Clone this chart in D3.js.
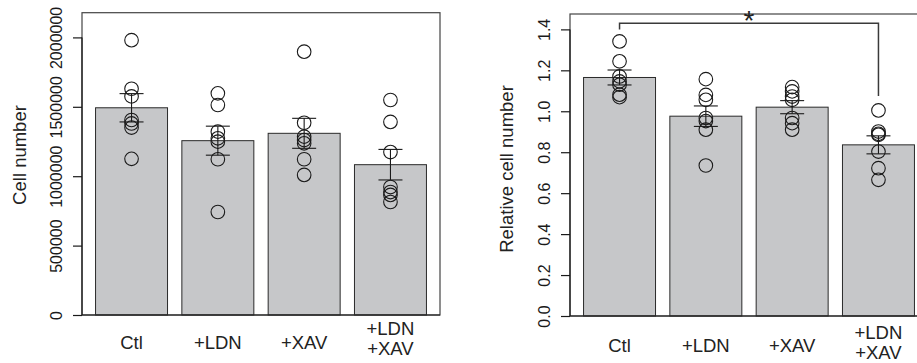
<!DOCTYPE html>
<html>
<head>
<meta charset="utf-8">
<script src="https://cdn.jsdelivr.net/npm/d3@7/dist/d3.min.js"></script>
<style>
  html, body { margin: 0; padding: 0; background: #fff; }
  svg { display: block; font-family: "Liberation Sans", Arial, Helvetica, sans-serif; }
</style>
</head>
<body>
<svg id="chart" width="917" height="363"></svg>
<script>
// ---- data ----
const categories = ["Ctl", "+LDN", "+XAV", "+LDN\n+XAV"];

const countMean = [1493000, 1256000, 1309000, 1083000];
const countSem  = [102000, 104500, 108000, 110000];
const countPoints = [
  [1980000, 1630000, 1575000, 1405000, 1380000, 1350000, 1125000],
  [1597000, 1513000, 1321000, 1273000, 1249000, 1122000, 742000],
  [1897000, 1385000, 1285000, 1261000, 1237000, 1122000, 1009000],
  [1549000, 1391000, 1174000, 922000, 886000, 865000, 814000]
];
const countTicks = [0, 500000, 1000000, 1500000, 2000000];

const relMean = [1.165, 0.976, 1.020, 0.836];
const relSem  = [0.0365, 0.050, 0.032, 0.044];
const relPoints = [
  [1.341, 1.244, 1.170, 1.146, 1.130, 1.081, 1.069],
  [1.157, 1.080, 1.056, 0.967, 0.952, 0.910, 0.735],
  [1.118, 1.097, 1.072, 1.056, 0.967, 0.942, 0.910],
  [1.004, 0.901, 0.890, 0.885, 0.803, 0.722, 0.665]
];
const relTicks = [0, 0.2, 0.4, 0.6, 0.8, 1.0, 1.2, 1.4];
const relTickLabels = ["0.0", "0.2", "0.4", "0.6", "0.8", "1.0", "1.2", "1.4"];

const sigLabel = "*";

// ---- drawing ----
const svg = d3.select("#chart");
const FONT_TICK = 16;
const FONT_LAB = 18.5;

function panel(opts) {
  const { left, right, top, bottom, mean, sem, points, ticks, tickFmt, ylab, ylabY, xlabSingle, xlabDouble } = opts;
  const g = svg.append("g");
  const ymax = d3.max(points.flat()) * 1.1;
  const y = d3.scaleLinear().domain([0, ymax]).range([bottom, top]);
  const x = d3.scaleBand().domain(categories).range([left, right])
    .paddingInner(0.166).paddingOuter(0.157);

  // bars
  g.selectAll("rect.bar").data(categories).enter().append("rect")
    .attr("class", "bar")
    .attr("x", d => x(d))
    .attr("y", (d, i) => y(mean[i]))
    .attr("width", x.bandwidth())
    .attr("height", (d, i) => y(0) - y(mean[i]))
    .attr("fill", "#c6c7c9")
    .attr("stroke", "#2a2a2a")
    .attr("stroke-width", 1);

  // box
  g.append("rect")
    .attr("x", left).attr("y", top)
    .attr("width", right - left).attr("height", bottom - top)
    .attr("fill", "none").attr("stroke", "#444").attr("stroke-width", 1.2);

  // points
  categories.forEach((c, i) => {
    const cx = x(c) + x.bandwidth() / 2;
    g.selectAll(null).data(points[i]).enter().append("circle")
      .attr("cx", cx).attr("cy", d => y(d)).attr("r", 6.8)
      .attr("fill", "none").attr("stroke", "#1a1a1a").attr("stroke-width", 1.1);
  });

  // error bars
  categories.forEach((c, i) => {
    const cx = x(c) + x.bandwidth() / 2;
    const hi = y(mean[i] + sem[i]), lo = y(mean[i] - sem[i]);
    const eg = g.append("g").attr("stroke", "#1a1a1a").attr("stroke-width", 1.1);
    eg.append("line").attr("x1", cx).attr("x2", cx).attr("y1", hi).attr("y2", lo);
    eg.append("line").attr("x1", cx - 12).attr("x2", cx + 12).attr("y1", hi).attr("y2", hi);
    eg.append("line").attr("x1", cx - 12).attr("x2", cx + 12).attr("y1", lo).attr("y2", lo);
  });

  // y axis
  const ax = g.append("g").attr("transform", `translate(${left},0)`)
    .call(d3.axisLeft(y).tickValues(ticks).tickFormat(tickFmt).tickSize(9).tickSizeOuter(0));
  ax.select(".domain").attr("stroke", "#1a1a1a").attr("stroke-width", 1.2)
    .attr("d", `M0,${y(ticks[0])}V${y(ticks[ticks.length - 1])}`);
  ax.selectAll(".tick line").attr("stroke", "#1a1a1a").attr("stroke-width", 1.2);
  ax.selectAll(".tick text")
    .attr("x", null).attr("dy", null)
    .attr("transform", "translate(-20,0) rotate(-90)")
    .attr("text-anchor", "middle")
    .attr("fill", "#1a1a1a")
    .style("font-size", FONT_TICK + "px")
    .style("font-family", "'Liberation Sans', Arial, Helvetica, sans-serif");
  // x axis baseline (bottom of box)
  g.append("line").attr("x1", left).attr("x2", right).attr("y1", bottom).attr("y2", bottom)
    .attr("stroke", "#1a1a1a").attr("stroke-width", 1.2);

  // y label
  g.append("text")
    .attr("transform", `translate(${ylab.x},${ylabY}) rotate(-90)`)
    .attr("text-anchor", "middle").attr("fill", "#222")
    .style("font-size", FONT_LAB + "px")
    .text(ylab.text);

  // x labels
  categories.forEach((c, i) => {
    const cx = x(c) + x.bandwidth() / 2;
    const lines = c.split("\n");
    const t = g.append("text").attr("text-anchor", "middle").attr("fill", "#222")
      .style("font-size", FONT_LAB + "px");
    if (lines.length === 1) {
      t.append("tspan").attr("x", cx).attr("y", xlabSingle).text(lines[0]);
    } else {
      lines.forEach((l, k) => t.append("tspan").attr("x", cx).attr("y", xlabDouble[k]).text(l));
    }
  });

  return { x, y, g };
}

const fmtCount = d => d3.format("d")(d);
panel({
  left: 82, right: 440, top: 12.7, bottom: 315,
  mean: countMean, sem: countSem, points: countPoints,
  ticks: countTicks, tickFmt: fmtCount,
  ylab: { x: 26, text: "Cell number" }, ylabY: 155,
  xlabSingle: 349, xlabDouble: [335, 355]
});

const R = panel({
  left: 570, right: 928, top: 14, bottom: 316,
  mean: relMean, sem: relSem, points: relPoints,
  ticks: relTicks, tickFmt: (d, i) => relTickLabels[i],
  ylab: { x: 513, text: "Relative cell number" }, ylabY: 169,
  xlabSingle: 352, xlabDouble: [339, 358.5]
});

// significance bracket Ctl vs +LDN+XAV
{
  const x = R.x, y = R.y;
  const a = x(categories[0]) + x.bandwidth() / 2;
  const b = x(categories[3]) + x.bandwidth() / 2;
  const yTop = y(1.43);
  R.g.append("path")
    .attr("d", `M${a},${y(1.40)}V${yTop}H${b}V${y(1.075)}`)
    .attr("fill", "none").attr("stroke", "#3a3a3a").attr("stroke-width", 1.5);
  R.g.append("text")
    .attr("x", (a + b) / 2).attr("y", 30)
    .attr("text-anchor", "middle").attr("fill", "#222")
    .style("font-size", "28px")
    .text(sigLabel);
}
</script>
</body>
</html>
